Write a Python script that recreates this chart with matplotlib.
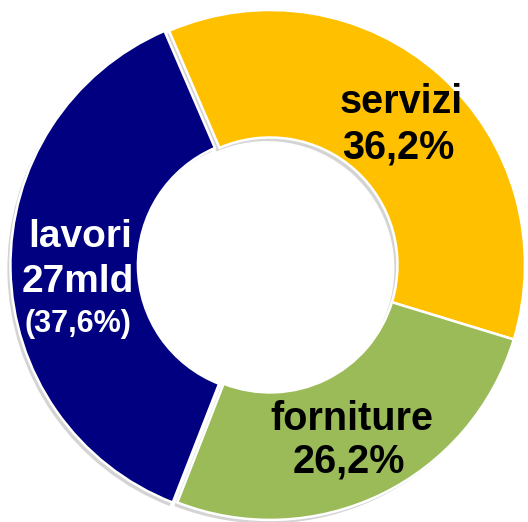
import numpy as np
import matplotlib.pyplot as plt

categories = ['servizi', 'lavori', 'forniture']
shares = [36.2, 37.6, 26.2]
labels = [['servizi', '36,2%'], ['lavori', '27mld', '(37,6%)'], ['forniture', '26,2%']]
colors = ['#FFC000', '#000080', '#9BBB59']
text_colors = ['black', 'white', 'black']
explode = [0, 0.018, 0]

plt.rcParams['font.family'] = ['Liberation Sans', 'DejaVu Sans']

fig = plt.figure(figsize=(5.28, 5.22), dpi=100)
ax = fig.add_axes([0, 0, 1, 1])

# soft shadow behind the ring
ax.pie(shares, startangle=-17, counterclock=True, explode=explode,
       colors=['#d4d4d4'] * 3, center=(-0.012, -0.014),
       wedgeprops=dict(width=0.5, linewidth=0))
wedges, _ = ax.pie(shares, startangle=-17, counterclock=True, explode=explode,
                   colors=colors,
                   wedgeprops=dict(width=0.5, edgecolor='white', linewidth=1.8))

# label lines: (x, baseline y) in data units, sizes
lines = [
    [(0.515, 0.595, 28.5), (0.505, 0.419, 28.5)],
    [(-0.745, 0.071, 28), (-0.753, -0.106, 28), (-0.753, -0.263, 22)],
    [(0.322, -0.647, 28.5), (0.310, -0.816, 28.5)],
]
for i in range(len(categories)):
    for txt, (x, y, fs) in zip(labels[i], lines[i]):
        ax.text(x, y, txt, ha='center', va='baseline', fontsize=fs,
                fontweight='bold', color=text_colors[i])

ax.set_xlim(-1.059, 1.012)
ax.set_ylim(-1.008, 1.039)
ax.set_aspect('equal')
ax.axis('off')
fig.savefig('out.png', dpi=100)
